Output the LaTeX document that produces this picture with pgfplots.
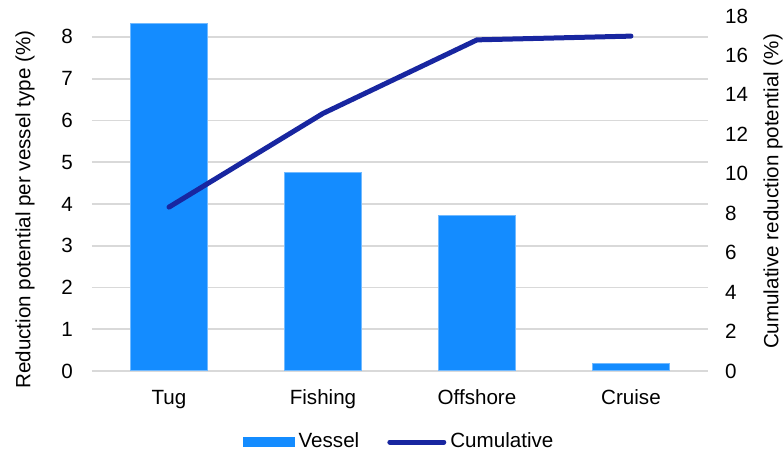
\documentclass[border=0pt]{standalone}
\usepackage{pgfplots}
\pgfplotsset{compat=1.18}
\usepackage{fontspec}
\setmainfont{Liberation Sans}
\definecolor{barblue}{RGB}{20,140,255}
\definecolor{linenavy}{RGB}{24,38,160}
\definecolor{gridgray}{RGB}{217,217,217}
\newcommand{\fsz}{\fontsize{10.3}{12.4}\selectfont}
\begin{document}
\begin{tikzpicture}[font=\fsz]
\path[use as bounding box] (-46pt,-42.5pt) rectangle (346pt,185.5pt);
\begin{axis}[
  scale only axis, width=308pt, height=177.5pt,
  xmin=-0.5, xmax=3.5, ymin=0, ymax=8.5,
  xtick={0,1,2,3}, xticklabels={Tug,Fishing,Offshore,Cruise},
  ytick={0,1,2,3,4,5,6,7,8},
  axis line style={draw=none}, major tick length=0pt,
  ymajorgrids, grid style={gridgray, line width=0.9pt},
  /pgf/number format/assume math mode=true,
  tick label style={font=\fsz},
  yticklabel style={xshift=-6pt},
  xticklabel style={yshift=-6pt},
  ylabel={Reduction potential per vessel type (\%)},
  ylabel style={at={([xshift=-33.5pt,yshift=-8pt]axis description cs:0,0.5)}, anchor=center, font=\fsz},
]
\addplot[ybar, bar width=0.5, fill=barblue, draw=barblue!60!white, line width=0.5pt] coordinates {(0,8.31) (1,4.75) (2,3.73) (3,0.19)};
\end{axis}
\begin{axis}[
  scale only axis, width=308pt, height=177.5pt,
  xmin=-0.5, xmax=3.5, ymin=0, ymax=18,
  axis x line=none,
  axis y line*=right,
  axis line style={draw=none}, major tick length=0pt,
  ytick={0,2,4,6,8,10,12,14,16,18},
  /pgf/number format/assume math mode=true,
  tick label style={font=\fsz},
  yticklabel style={xshift=5pt},
  ylabel={Cumulative reduction potential (\%)},
  ylabel style={at={([xshift=32.5pt,yshift=1pt]axis description cs:1,0.5)}, anchor=center, rotate=0, font=\fsz},
  legend style={at={([yshift=-35.5pt]axis description cs:0.5,0)}, anchor=center, draw=none, fill=none,
    legend columns=2, font=\fsz,
    /tikz/every even column/.append style={column sep=12pt}},
  legend cell align=left,
]
\addlegendimage{area legend, fill=barblue, draw=none, legend image code/.code={\fill[barblue] (0pt,-2.6pt) rectangle (26pt,2.6pt);}}
\addlegendentry{Vessel}
\addplot[linenavy, line width=2.5pt, line cap=round, legend image code/.code={\draw[linenavy, line width=2.5pt, line cap=round] (0pt,0pt) -- (27pt,0pt);}] coordinates {(0,8.31) (1,13.06) (2,16.79) (3,16.98)};
\addlegendentry{Cumulative}
\end{axis}
\end{tikzpicture}
\end{document}
